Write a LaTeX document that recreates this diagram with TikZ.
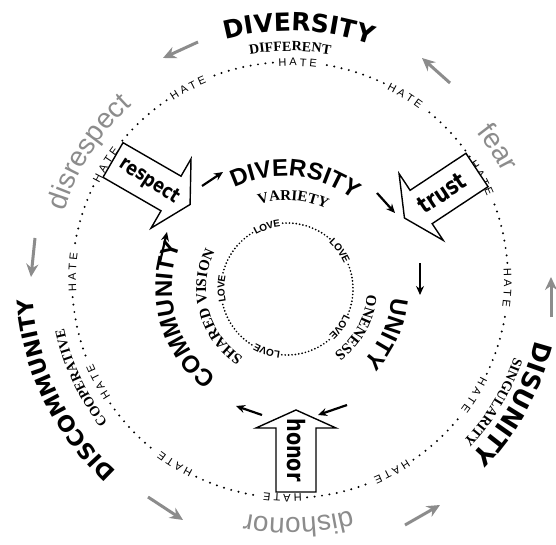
\documentclass[tikz,border=0pt]{standalone}
\usepackage{fontspec}
\usetikzlibrary{decorations.text,arrows.meta}
\newfontfamily\dvs{DejaVu Sans}
\newfontfamily\lsans{Liberation Sans}
\newfontfamily\lserif{Liberation Serif}
\newfontfamily\impf{DejaVu Sans}[FakeStretch=0.8]
\newcommand\FBig{\dvs\bfseries\fontsize{25}{25}\selectfont}
\newcommand\FBigS{\dvs\bfseries\fontsize{22}{22}\selectfont}
\newcommand\FMid{\lsans\bfseries\fontsize{24}{24}\selectfont}
\newcommand\FSer{\lserif\bfseries\fontsize{14}{14}\selectfont}
\newcommand\FSerB{\lserif\bfseries\fontsize{15}{15}\selectfont}
\newcommand\FGray{\lsans\fontsize{28}{28}\selectfont}
\newcommand\FHate{\lsans\fontsize{11}{11}\selectfont}
\newcommand\FLove{\lsans\bfseries\fontsize{10}{10}\selectfont}
\newcommand\FImp[1]{\impf\bfseries\fontsize{#1}{#1}\selectfont}
% #1 extra decoration options, #2 centre, #3 baseline radius, #4 mid angle, #5 half span, #6 font, #7 text
\newcommand\ArcText[7][]{%
  \path[decorate,decoration={text along path,text align=center,#1,text={|#6|#7}}]
    ([shift={(#4+#5:#3)}]#2) arc[start angle=#4+#5,end angle=#4-#5,radius=#3];}
% #1 name, #2 tail centre, #3 direction, #4 shaft length, #5 head length, #6 text, #7 text rotation, #8 size
\newcommand\BlockArrow[8]{%
  \begin{scope}[shift={#2},rotate=#3]
    \draw[blockarrow] (0,-20) -- (#4,-20) -- (#4,-40) -- ({#4+#5},0) -- (#4,40) -- (#4,20) -- (0,20) -- cycle;
    \node[rotate=#7,inner sep=0pt] (#1) at (42,0) {\FImp{#8}#6};
  \end{scope}}
\begin{document}
\begin{tikzpicture}[x=1pt,y=1pt,
  hatedots/.style={line width=2.2pt,line cap=round,dash pattern=on 0pt off 7.5pt},
  lovedots/.style={line width=1.9pt,line cap=round,dash pattern=on 0pt off 3.4pt},
  blockarrow/.style={draw,line width=1.4pt,fill=white,line join=miter},
  smallarrow/.style={line width=2.2pt,-{Stealth[length=9pt,width=8pt]}},
  grayarrow/.style={draw=black!45,line width=3pt,-{Stealth[length=13pt,width=12pt]}}]
\useasboundingbox (0,0) rectangle (556,544);
\fill[white] (0,0) rectangle (556,544);
\coordinate (C0) at (290,264);
\coordinate (C1) at (284,256);
\coordinate (C2) at (287,255);
% HATE ring
\foreach \t in {-2,28,...,328} {
  \ArcText[raise=-4pt]{C0}{218}{\t}{15}{\FHate}{H A T E}
  \draw[hatedots] ([shift={(\t+6.5:218)}]C0) arc[start angle=\t+6.5,end angle=\t+23.5,radius=218];
}
% LOVE ring
\foreach \t in {180,108,36,-36,-108} {
  \ArcText[raise=-3.5pt]{C2}{66}{\t}{20}{\FLove}{LOVE}
  \draw[lovedots] ([shift={(\t+13.5:66)}]C2) arc[start angle=\t+13.5,end angle=\t+58.5,radius=66];
}
% outer big words
\ArcText{C0}{249}{88}{40}{\FBig}{DIVERSITY}
\ArcText{C0}{258}{206}{45}{\FBigS}{DISCOMMUNITY}
\ArcText{C0}{253}{-29}{40}{\FBig}{DISUNITY}
% outer small words
\ArcText{C0}{229}{90}{30}{\FSer}{DIFFERENT}
\ArcText{C0}{231}{205}{30}{\FSer}{COOPERATIVE}
\ArcText{C0}{237}{-31}{30}{\FSer}{SINGULARITY}
% gray words
\ArcText[text color=black!45]{C0}{236}{147.6}{40}{\FGray}{disrespect}
\ArcText[text color=black!45]{C0}{238}{32.5}{25}{\FGray}{fear}
\ArcText[text color=black!45]{C0}{238}{-88}{35}{\FGray}{dishonor}
% middle ring
\ArcText{C1}{112}{84}{50}{\FMid}{DIVERSITY}
\ArcText{C1}{108}{-24}{40}{\FMid}{UNITY}
\ArcText{C1}{112}{195}{50}{\FMid}{COMMUNITY}
% inner words
\ArcText{C2}{89}{86}{40}{\FSerB}{VARIETY}
\ArcText{C2}{81}{195}{65}{\FSerB}{SHARED VISION}
\ArcText{C2}{80}{-29}{40}{\FSerB}{ONENESS}
% block arrows
\BlockArrow{respect}{(113,384)}{-30}{67}{22}{respect}{-33}{20}
\BlockArrow{trust}{(477,374)}{213.5}{67}{20}{trust}{33.5}{24}
\BlockArrow{honor}{(296,52)}{90}{64}{18}{honor}{-90}{24}
% small black arrows
\coordinate (s1a) at (202,358); \coordinate (s1b) at (223,372);
\coordinate (s2a) at (377,351); \coordinate (s2b) at (395,331);
\coordinate (s3a) at (420,281); \coordinate (s3b) at (420,249);
\coordinate (s4a) at (347,139); \coordinate (s4b) at (318,129);
\coordinate (s5a) at (262,129); \coordinate (s5b) at (236,138);
\coordinate (s6a) at (160,282); \coordinate (s6b) at (167,312);
\draw[smallarrow] (s1a) -- (s1b);
\draw[smallarrow] (s2a) -- (s2b);
\draw[smallarrow] (s3a) -- (s3b);
\draw[smallarrow] (s4a) -- (s4b);
\draw[smallarrow] (s5a) -- (s5b);
\draw[smallarrow] (s6a) -- (s6b);
% gray arrows
\coordinate (g1a) at (198,502); \coordinate (g1b) at (163,486);
\coordinate (g2a) at (450,461); \coordinate (g2b) at (422,486);
\coordinate (g3a) at (35,306);  \coordinate (g3b) at (31,267);
\coordinate (g4a) at (148,47);  \coordinate (g4b) at (183,24);
\coordinate (g5a) at (405,19);  \coordinate (g5b) at (440,39);
\coordinate (g6a) at (551,227); \coordinate (g6b) at (551,267);
\draw[grayarrow] (g1a) -- (g1b);
\draw[grayarrow] (g2a) -- (g2b);
\draw[grayarrow] (g3a) -- (g3b);
\draw[grayarrow] (g4a) -- (g4b);
\draw[grayarrow] (g5a) -- (g5b);
\draw[grayarrow] (g6a) -- (g6b);
\end{tikzpicture}
\end{document}
